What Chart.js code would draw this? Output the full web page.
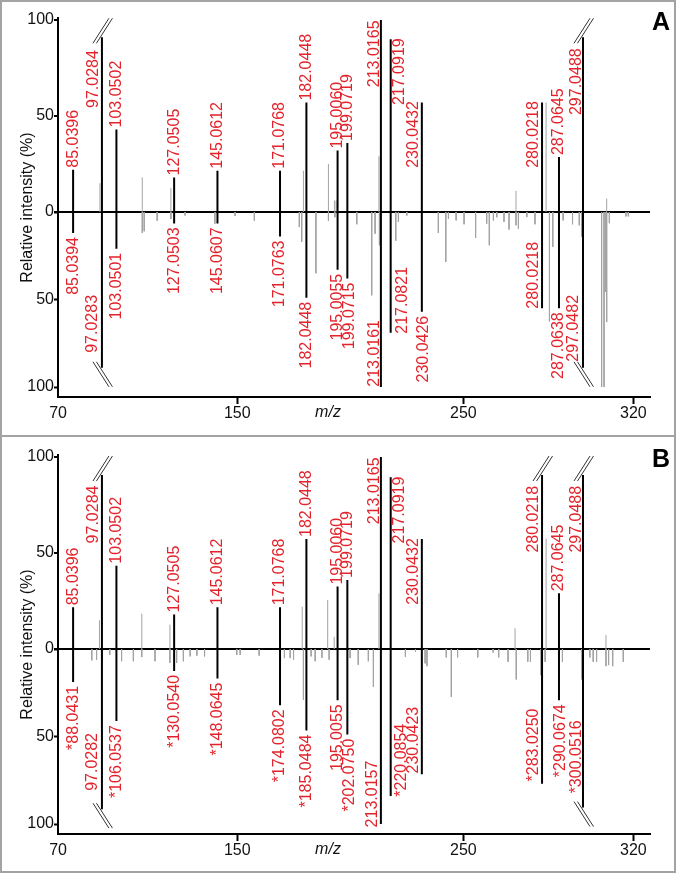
<!DOCTYPE html>
<html>
<head>
<meta charset="utf-8">
<script src="https://cdn.jsdelivr.net/npm/chart.js@4.4.1/dist/chart.umd.min.js"></script>
<style>
    html, body { margin: 0; padding: 0; background: #fff; }
    body { width: 679px; height: 873px; position: relative; overflow: hidden; }
    .frame { position: absolute; left: 0; top: 0; width: 676px; height: 873px; border: 2px solid #a3a3a3; box-sizing: border-box; }
    .sep { position: absolute; left: 0; top: 435px; width: 676px; height: 2px; background: #a3a3a3; }
    .panel { position: absolute; left: 0; width: 679px; }
    #panelA { top: 0; height: 435px; }
    #panelB { top: 437px; height: 436px; }
</style>
</head>
<body>
<div class="frame"></div>
<div class="sep"></div>
<div class="panel" id="panelA"><canvas id="chartA"></canvas></div>
<div class="panel" id="panelB"><canvas id="chartB"></canvas></div>
<script>
// x axis: printed labels and the m/z where the reference prints them
const xTickLabels = ['70', '150', '250', '320'];
const xTickAt     = [78.8, 153.3, 247.3, 318.0];
const yTickValues = [0, 50, 100];

// ---- panel A, upper spectrum (labelled peaks) ----
const aTopMz   = [85.0396, 97.0284, 103.0502, 127.0505, 145.0612, 171.0768, 182.0448, 195.0060, 199.0719, 213.0165, 217.0919, 230.0432, 280.0218, 287.0645, 297.0488];
const aTopInt  = [22, 91, 43, 18, 21.5, 21.5, 57, 32, 36, 100, 90, 57, 57, 28.6, 91];
const aTopText = ['85.0396', '97.0284', '103.0502', '127.0505', '145.0612', '171.0768', '182.0448', '195.0060', '199.0719', '213.0165', '217.0919', '230.0432', '280.0218', '287.0645', '297.0488'];
const aTopBroken = [1, 14];
// ---- panel A, lower (mirrored) spectrum ----
const aBotMz   = [85.0394, 97.0283, 103.0501, 127.0503, 145.0607, 171.0763, 182.0448, 195.0055, 199.0715, 213.0161, 217.0821, 230.0426, 280.0218, 287.0638, 297.0482];
const aBotInt  = [12, 89, 21, 6.5, 6.5, 14, 49, 33, 38, 100, 69, 57, 55, 55, 89];
const aBotText = ['85.0394', '97.0283', '103.0501', '127.0503', '145.0607', '171.0763', '182.0448', '195.0055', '199.0715', '213.0161', '217.0821', '230.0426', '280.0218', '287.0638', '297.0482'];
const aBotBroken = [1, 14];
// unlabelled (grey) peaks, panel A
const aTopGreyMz  = [96.2, 113.8, 125.7, 180.8, 191.2, 193.7, 194.4, 212.2, 269.2, 281.7, 306.9];
const aTopGreyInt = [15, 18, 12.5, 21.5, 25, 6, 6, 29, 11, 57, 7];
const aBotGreyMz  = [113.8, 114.6, 120.0, 125.7, 131.6, 144.0, 152.4, 160.4, 179.1, 180.1, 186.0, 191.2, 193.9, 203.0, 209.2, 210.6, 212.4, 219.2, 220.3, 223.8, 236.9, 240.0, 241.1, 244.3, 247.6, 252.4, 257.0, 258.1, 259.8, 261.2, 264.2, 266.3, 269.2, 270.2, 273.7, 277.1, 283.1, 284.5, 286.9, 288.8, 292.7, 295.5, 296.5, 304.8, 305.8, 306.3, 306.9, 308.0, 314.9, 315.9];
const aBotGreyInt = [12, 11, 5, 4, 2, 6.7, 2.3, 5, 8.6, 17, 35, 5, 3, 7, 47.6, 12.4, 19, 16.4, 5.7, 2, 12, 28.6, 3.8, 4.8, 7, 14.8, 6.7, 19, 4.8, 3, 5.7, 10, 7.6, 9.5, 2.9, 7, 62.5, 20, 14.3, 4.8, 7, 7.6, 14, 100, 100, 45.7, 62.9, 6.4, 2.5, 2.5];

// ---- panel B, upper spectrum ----
const bTopMz   = [85.0396, 97.0284, 103.0502, 127.0505, 145.0612, 171.0768, 182.0448, 195.0060, 199.0719, 213.0165, 217.0919, 230.0432, 280.0218, 287.0645, 297.0488];
const bTopInt  = [21.7, 90.6, 43.4, 18, 21.7, 21.7, 57.3, 32.5, 36, 100, 89.4, 57.3, 90.6, 29, 90.6];
const bTopText = ['85.0396', '97.0284', '103.0502', '127.0505', '145.0612', '171.0768', '182.0448', '195.0060', '199.0719', '213.0165', '217.0919', '230.0432', '280.0218', '287.0645', '297.0488'];
const bTopBroken = [1, 12, 14];
// ---- panel B, lower spectrum (labelled isotopologue peaks, drawn under their partners) ----
const bBotMz   = [85.0396, 97.0284, 103.0502, 127.0505, 145.0612, 171.0768, 182.0448, 195.0060, 199.0719, 213.0165, 217.0919, 230.0432, 280.0218, 287.0645, 297.0488];
const bBotInt  = [18.8, 91.5, 41.2, 12.5, 16.9, 32.2, 46.6, 29.3, 48.9, 100, 84, 71.5, 77, 29.3, 90.6];
const bBotText = ['*88.0431', '97.0282', '*106.0537', '*130.0540', '*148.0645', '*174.0802', '*185.0484', '195.0055', '*202.0750', '213.0157', '*220.0854', '230.0423', '*283.0250', '*290.0674', '*300.0516'];
const bBotBroken = [1, 14];
// unlabelled (grey) peaks, panel B
const bTopGreyMz  = [96.0, 113.6, 125.3, 180.3, 190.9, 193.6, 212.2, 268.8, 281.7, 306.6];
const bTopGreyInt = [15, 18.4, 12.7, 22, 25.5, 6.4, 29, 10.8, 57.5, 7.3];
const bBotGreyMz  = [92.8, 94.8, 100.3, 105.2, 110.1, 113.6, 119.1, 125.3, 128.1, 130.9, 133.7, 136.5, 139.7, 153.1, 154.5, 162.4, 172.9, 175.3, 176.7, 180.8, 184.0, 185.7, 188.5, 191.5, 200.2, 203.6, 207.8, 209.9, 223.2, 227.4, 231.4, 232.2, 240.2, 242.3, 244.9, 253.3, 259.7, 262.0, 265.9, 269.3, 274.1, 275.2, 279.6, 281.3, 288.5, 296.6, 299.9, 301.3, 302.7, 306.6, 307.7, 309.4, 313.8];
const bBotGreyInt = [6.5, 6.1, 3.3, 7, 7, 4.6, 7, 8, 8, 7, 4.2, 3.8, 4.2, 3.3, 3.3, 3.8, 5.2, 5.2, 6.1, 29, 4.2, 7, 5, 6.1, 5.2, 9, 7, 21.6, 4.4, 1.5, 8.2, 9.8, 4.8, 27.4, 4.8, 4.8, 2, 4.8, 7.3, 17.4, 7.3, 7.3, 15, 7.3, 7.3, 17.4, 4.8, 7.3, 7.3, 9.8, 9.2, 9.8, 7.3];

// label placement: sideways shift in px, and the intensity where a moved label starts (null = at the peak tip)
const aTopLabelDx = [0, -8, 0, 0, 0, 0, 0, 0, 0, -6, 9, -8, -8, 0, -6];
const aTopLabelAt = [null, 54.2, null, null, null, null, null, null, null, 65, 55.7, 23, 23, null, 50.5];
const aBotLabelDx = [0, -9, 0, 0, 0, 0, 0, 0, 2, -6, 12, 2, -8, 0, -9];
const aBotLabelAt = [null, 47.4, null, null, null, null, null, null, null, 61.7, 31.4, null, 17.1, null, 47.4];
const bTopLabelDx = [0, -8, 0, 0, 0, 0, 0, 0, 0, -6, 9, -8, -8, 0, -6];
const bTopLabelAt = [null, 55, null, null, null, null, null, null, null, 65, 55, 23, 50.2, null, 50.2];
const bBotLabelDx = [0, -9, 0, 0, 0, 0, 0, 0, 2, -8, 11, -8, -8, 2, -6];
const bBotLabelAt = [null, 48, null, null, null, null, null, null, null, 63.8, 42.7, 33, 34, null, 40.8];

const FONT = '"Liberation Sans", Arial, Helvetica, sans-serif';
const RED = '#e3232b';
const GREY = '#a3a3a3';
const X_MIN = 78.76, X_MAX = 324.91;

function sticks(mz, val) {
    const pts = [];
    mz.forEach((m, i) => {
        pts.push({ x: m, y: 0 }, { x: m, y: val[i] }, { x: m, y: null });
    });
    return pts;
}

function stickSet(mz, val, axis, color, width, order) {
    return {
        data: sticks(mz, val),
        yAxisID: axis,
        borderColor: color,
        borderWidth: width,
        pointRadius: 0,
        spanGaps: false,
        tension: 0,
        order: order,
    };
}

function drawBreak(ctx, x, tip, dir) {
    ctx.save();
    ctx.strokeStyle = '#333';
    ctx.lineWidth = 1;
    [0, 3.5].forEach(k => {
        ctx.beginPath();
        ctx.moveTo(x - 9 + k, tip - 6 * dir);
        ctx.lineTo(x + 7 + k, tip + 19 * dir);
        ctx.stroke();
    });
    ctx.restore();
}

function drawLabels(ctx, xs, ys, side, dir) {
    side.mz.forEach((m, i) => {
        const px = xs.getPixelForValue(m);
        const tip = ys.getPixelForValue(side.int[i]);
        const at = side.at[i];
        const ly = at == null ? (dir < 0 ? tip - 2 : tip + 4) : ys.getPixelForValue(at);
        ctx.save();
        ctx.translate(px + side.dx[i], ly);
        ctx.rotate(-Math.PI / 2);
        ctx.textAlign = dir < 0 ? 'left' : 'right';
        ctx.textBaseline = 'middle';
        ctx.fillStyle = RED;
        ctx.font = '16px ' + FONT;
        ctx.fillText(side.text[i], 0, 0);
        ctx.restore();
        if (side.broken.includes(i)) drawBreak(ctx, px, tip, dir);
    });
}

function makeChart(canvasId, letter, top, bot, greyTop, greyBot, padBottom) {
    const annotate = {
        id: 'annotate' + letter,
        afterDatasetsDraw(chart) {
            const { ctx, scales } = chart;
            drawLabels(ctx, scales.x, scales.yTop, top, -1);
            drawLabels(ctx, scales.x, scales.yBot, bot, 1);
        },
        afterDraw(chart) {
            const { ctx, chartArea } = chart;
            ctx.save();
            ctx.fillStyle = '#111';
            ctx.font = '16px ' + FONT;
            ctx.textAlign = 'center';
            ctx.textBaseline = 'middle';
            ctx.translate(28, (chartArea.top + chartArea.bottom) / 2);
            ctx.rotate(-Math.PI / 2);
            ctx.fillText('Relative intensity (%)', 0, 0);
            ctx.restore();

            ctx.save();
            ctx.fillStyle = '#111';
            ctx.font = 'italic 16px ' + FONT;
            ctx.textAlign = 'center';
            ctx.textBaseline = 'middle';
            ctx.fillText('m/z', chartArea.left + 270, chartArea.bottom + 16);
            ctx.font = 'bold 25px ' + FONT;
            ctx.textAlign = 'right';
            ctx.textBaseline = 'alphabetic';
            ctx.fillStyle = '#000';
            ctx.fillText(letter, 670, 30);
            ctx.restore();
        },
    };

    const yCommon = {
        type: 'linear',
        position: 'left',
        stack: 'mirror',
        min: 0,
        afterBuildTicks: s => { s.ticks = yTickValues.map(v => ({ value: v })); },
        afterFit: s => { s.width = 58; },
        border: { color: '#000', width: 2 },
    };
    const tickFont = { family: FONT, size: 16 };

    return new Chart(document.getElementById(canvasId), {
        type: 'line',
        data: {
            datasets: [
                stickSet(greyTop.mz, greyTop.int, 'yTop', GREY, 1, 2),
                stickSet(greyBot.mz, greyBot.int, 'yBot', GREY, 1, 2),
                stickSet(top.mz, top.int, 'yTop', '#000', 2, 0),
                stickSet(bot.mz, bot.int, 'yBot', '#000', 2, 0),
            ],
        },
        options: {
            responsive: true,
            maintainAspectRatio: false,
            animation: false,
            events: [],
            devicePixelRatio: 1,
            layout: { padding: { left: 0, right: 29, top: 18, bottom: padBottom } },
            plugins: { legend: { display: false }, tooltip: { enabled: false } },
            scales: {
                x: {
                    type: 'linear',
                    position: 'bottom',
                    min: X_MIN,
                    max: X_MAX,
                    afterBuildTicks: s => { s.ticks = xTickAt.map(v => ({ value: v })); },
                    afterFit: s => { s.height = 30; },
                    ticks: {
                        callback: (v, i) => xTickLabels[i],
                        font: tickFont, color: '#111', padding: 0,
                        maxRotation: 0, autoSkip: false,
                    },
                    grid: {
                        drawOnChartArea: false, tickLength: 7, tickWidth: 2,
                        tickColor: ctx => ctx.index === 0 ? 'rgba(0,0,0,0)' : '#000',
                    },
                    border: { color: '#000', width: 2 },
                },
                yBot: Object.assign({}, yCommon, {
                    reverse: true,
                    max: 105.7,
                    stackWeight: 185,
                    ticks: { callback: v => v === 0 ? '' : String(v), font: tickFont, color: '#111', padding: 0 },
                    grid: { drawOnChartArea: false, tickLength: 4, tickWidth: 2, tickColor: '#000' },
                }),
                yTop: Object.assign({}, yCommon, {
                    max: 101.04,
                    stackWeight: 194,
                    ticks: { callback: v => String(v), font: tickFont, color: '#111', padding: 0 },
                    grid: {
                        color: ctx => ctx.tick && ctx.tick.value === 0 ? '#000' : 'rgba(0,0,0,0)',
                        lineWidth: 2, tickLength: 4, tickWidth: 2, tickColor: '#000',
                    },
                }),
            },
        },
        plugins: [annotate],
    });
}

makeChart('chartA', 'A',
    { mz: aTopMz, int: aTopInt, text: aTopText, broken: aTopBroken, dx: aTopLabelDx, at: aTopLabelAt },
    { mz: aBotMz, int: aBotInt, text: aBotText, broken: aBotBroken, dx: aBotLabelDx, at: aBotLabelAt },
    { mz: aTopGreyMz, int: aTopGreyInt },
    { mz: aBotGreyMz, int: aBotGreyInt },
    8);

makeChart('chartB', 'B',
    { mz: bTopMz, int: bTopInt, text: bTopText, broken: bTopBroken, dx: bTopLabelDx, at: bTopLabelAt },
    { mz: bBotMz, int: bBotInt, text: bBotText, broken: bBotBroken, dx: bBotLabelDx, at: bBotLabelAt },
    { mz: bTopGreyMz, int: bTopGreyInt },
    { mz: bBotGreyMz, int: bBotGreyInt },
    9);
</script>
</body>
</html>
